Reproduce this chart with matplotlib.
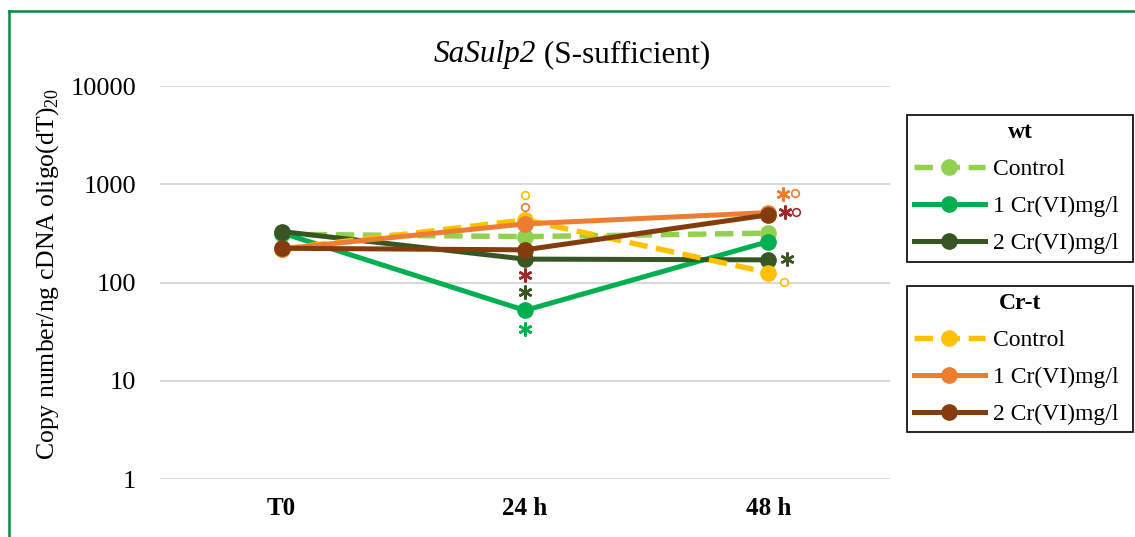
import matplotlib
matplotlib.use('Agg')
import matplotlib.pyplot as plt
from matplotlib.lines import Line2D
from matplotlib.transforms import offset_copy

# Dados
times = ['T0', '24 h', '48 h']
wt_control = [310, 293, 318]
wt_1cr = [320, 52, 261]
wt_2cr = [330, 173, 170]
crt_control = [220, 434, 126]
crt_1cr = [220, 395, 515]
crt_2cr = [223, 215, 488]
labels = ['Control', '1 Cr(VI)mg/l', '2 Cr(VI)mg/l']

plt.rcParams['font.family'] = ['Liberation Serif', 'DejaVu Serif']
plt.rcParams['mathtext.fontset'] = 'custom'
plt.rcParams['mathtext.rm'] = 'Liberation Serif'

fig = plt.figure(figsize=(11.35, 5.37), dpi=100)
ax = fig.add_axes([160 / 1135, 1 - 479 / 537, 730 / 1135, 393 / 537])

x = list(range(len(times)))
series = [
    (wt_control, '#92D050', '--'),
    (wt_1cr, '#00B050', '-'),
    (wt_2cr, '#375623', '-'),
    (crt_control, '#FFC000', '--'),
    (crt_1cr, '#ED7D31', '-'),
    (crt_2cr, '#843C0C', '-'),
]
handles = []
for vals, color, ls in series:
    if ls == '--':
        h, = ax.plot(x, vals, color=color, linewidth=3.9, dashes=(3.4, 1.6),
                     marker='o', markersize=11)
    else:
        h, = ax.plot(x, vals, color=color, linewidth=3.6, marker='o', markersize=11)
    handles.append(h)

# Marcas de significância: (série, tempo, tipo, cor, dx, dy em pixels)
red = '#9E2A2B'
marks = [
    (5, 1, 'star', red, 0, -25),
    (2, 1, 'star', '#375623', 0, -33),
    (1, 1, 'star', '#00B050', 0, -19),
    (3, 1, 'circ', '#FFC000', 0, 25),
    (4, 1, 'circ', '#ED7D31', 0, 17),
    (4, 2, 'star', '#ED7D31', 15, 19),
    (4, 2, 'circ', '#ED7D31', 27, 20),
    (5, 2, 'star', red, 17, 3),
    (5, 2, 'circ', red, 28, 3),
    (2, 2, 'star', '#375623', 19, 1),
    (3, 2, 'circ', '#FFC000', 16, -9),
]
for s, t, kind, color, dx, dy in marks:
    tr = offset_copy(ax.transData, fig=fig, x=dx, y=dy, units='dots')
    if kind == 'star':
        ax.plot(x[t], series[s][0][t], marker=(6, 2, 0), markersize=10,
                markeredgewidth=1.8, color=color, transform=tr, clip_on=False)
    else:
        ax.plot(x[t], series[s][0][t], marker='o', markersize=5.5,
                markeredgewidth=1.2, markeredgecolor=color, markerfacecolor='white',
                transform=tr, clip_on=False)

ax.set_yscale('log')
ax.set_ylim(1, 10000)
ax.set_xlim(-0.5, 2.5)
ax.set_yticks([1, 10, 100, 1000, 10000])
ax.set_yticklabels(['1', '10', '100', '1000', '10000'])
ax.minorticks_off()
ax.set_xticks(x)
ax.set_xticklabels(times, fontweight='bold')
ax.tick_params(axis='y', length=0, pad=17, labelsize=19)
ax.tick_params(axis='x', length=0, pad=13, labelsize=18)
ax.yaxis.grid(True, color='#D9D9D9', linewidth=1.5)
ax.set_axisbelow(True)
for sp in ax.spines.values():
    sp.set_visible(False)

ax.set_ylabel('Copy number/ng cDNA oligo(dT)$_{20}$', fontsize=18.5, labelpad=7)
ax.yaxis.label.set_y(0.522)

# Título: parte em itálico + parte normal
t1 = fig.text(434 / 1135, 1 - 62 / 537, 'SaSulp2', fontsize=22.5, style='italic',
              ha='left', va='baseline')
ax.annotate(' (S-sufficient)', xy=(1, 0), xycoords=t1, fontsize=22.5,
            ha='left', va='bottom', annotation_clip=False)

leg_kw = dict(fontsize=17, handlelength=3.0, handletextpad=0.35, labelspacing=0.66,
              borderpad=0.3, fancybox=False, edgecolor='black', framealpha=1,
              mode='expand', loc='upper left', borderaxespad=0)
leg1 = fig.legend(handles[:3], labels, title='wt',
                  bbox_to_anchor=(907 / 1135, 1 - 115 / 537, 226 / 1135, 0), **leg_kw)
leg2 = fig.legend(handles[3:], labels, title='Cr-t',
                  bbox_to_anchor=(907 / 1135, 1 - 286 / 537, 226 / 1135, 0), **leg_kw)
for lg in (leg1, leg2):
    lg.get_title().set_fontweight('bold')
    lg.get_title().set_fontsize(17)
    lg.get_frame().set_linewidth(1.2)

# Moldura verde
fig.add_artist(Line2D([9 / 1135, 9 / 1135], [0, 1 - 11 / 537], color='#00893E', linewidth=1.8))
fig.add_artist(Line2D([9 / 1135, 1], [1 - 11 / 537, 1 - 11 / 537], color='#00893E', linewidth=1.8))

fig.savefig('out.png', dpi=100)
